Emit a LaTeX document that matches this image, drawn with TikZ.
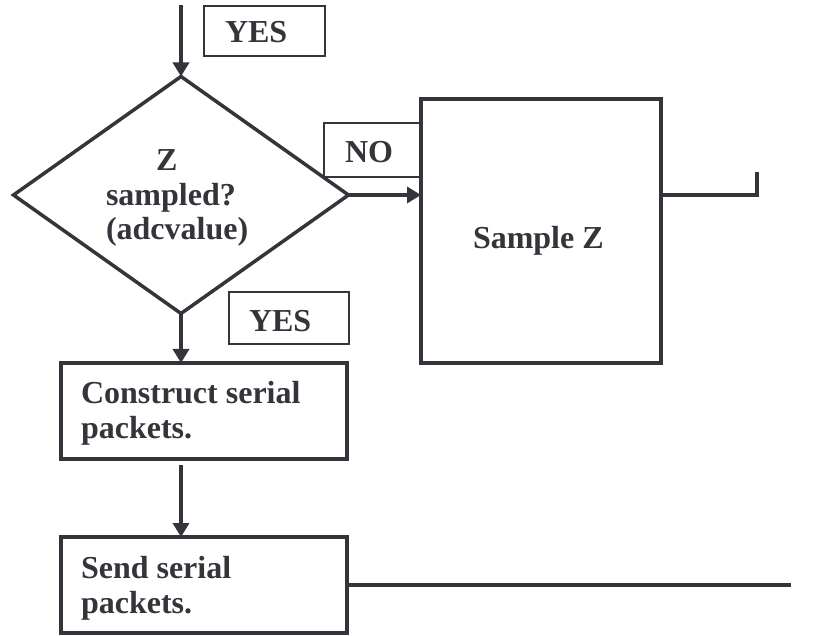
\documentclass[tikz,border=0pt]{standalone}
\usepackage{fontspec}
\setmainfont{Liberation Serif}
\usetikzlibrary{shapes.geometric,arrows.meta}
\definecolor{ink}{RGB}{52,52,58}
\begin{document}
\begin{tikzpicture}[x=1pt,y=-1pt,
  every node/.style={inner sep=0pt, outer sep=0pt},
  wire/.style={draw=ink, line width=3.5pt},
  flow/.style={draw=ink, line width=3.5pt, -{Triangle[width=16pt,length=14pt]}},
  procbox/.style={draw=ink, line width=3.5pt, rectangle},
  tagbox/.style={draw=ink, line width=1.5pt, fill=white, rectangle},
  lbl/.style={text=ink, font=\fontsize{32}{34.5}\selectfont\bfseries, anchor=base west, align=left},
  decision/.style={draw=ink, line width=3.5pt, diamond}]
\useasboundingbox (0,0) rectangle (817,636);
\coordinate (start) at (181,5);
\node[decision, minimum width=335pt, minimum height=237pt] (dec) at (181,195) {};
\node[lbl] (dectext) at (106,240) {\hspace*{50pt}Z\\sampled?\\(adcvalue)};
\node[procbox, minimum width=240pt, minimum height=264pt] (samp) at (541,231) {};
\node[lbl] (samptext) at (473,249) {Sample Z};
\node[procbox, minimum width=286pt, minimum height=96pt] (cons) at (204,411) {};
\node[lbl] (constext) at (81,438) {Construct serial\\packets.};
\node[procbox, minimum width=286pt, minimum height=96pt] (send) at (204,585) {};
\node[lbl] (sendtext) at (81,613) {Send serial\\packets.};
\coordinate (tee) at (757,195);
\coordinate (teeup) at (757,172);
\coordinate (sendout) at (791,585);
\draw[flow] (start) -- (dec.north);
\draw[flow] (dec.east) -- (samp.west |- dec.east);
\draw[flow] (dec.south) -- (dec.south |- cons.north);
\draw[flow, shorten <=6pt] (cons.south -| dec.south) -- (send.north -| dec.south);
\draw[wire] (samp.east |- tee) -- (tee) -- (teeup);
\draw[wire] (send.east) -- (sendout);
\node[tagbox, minimum width=121pt, minimum height=50pt] (yes1) at (264.5,31) {};
\node[lbl] (yes1t) at (225,43) {YES};
\node[tagbox, minimum width=120pt, minimum height=52pt] (yes2) at (289,318) {};
\node[lbl] (yes2t) at (249,332) {YES};
\node[tagbox, minimum width=96pt, minimum height=54pt] (no) at (372,150) {};
\node[lbl] (notxt) at (345,163) {NO};
\end{tikzpicture}
\end{document}
